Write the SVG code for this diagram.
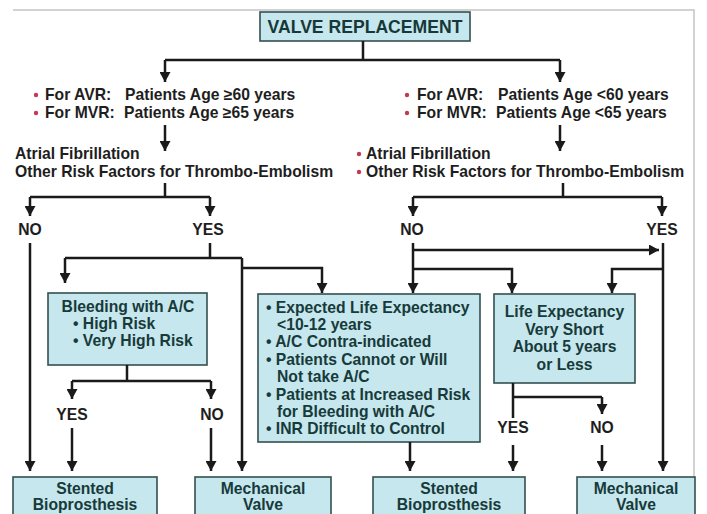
<svg xmlns="http://www.w3.org/2000/svg" width="707" height="514" viewBox="0 0 707 514">
<defs>
<marker id="ah" markerUnits="userSpaceOnUse" markerWidth="11" markerHeight="11" refX="10" refY="5.5" orient="auto">
<path d="M0,0 L10,5.5 L0,11 z" fill="#1a1a1a"/>
</marker>
<style>
text{font-family:"Liberation Sans",Arial,sans-serif;font-weight:bold;font-size:15.7px;fill:#1e1e1e}
.t{font-size:17.6px;fill:#173838}
.b text,.bt{fill:#173a3a}
.m{text-anchor:middle}
.box{fill:#c6e7ed;stroke:#335050;stroke-width:1.6}
.c path{fill:none;stroke:#1a1a1a;stroke-width:2.5}
.c .a{marker-end:url(#ah)}
.dot{fill:#c23a52}
.frame{stroke:#c4c4c4;stroke-width:1.5;fill:none}
</style>
</defs>
<rect width="707" height="514" fill="#ffffff"/>
<path class="frame" d="M13,10 H694 V514"/>

<g id="title">
<rect class="box" x="260" y="12" width="210" height="29"/>
<text class="t m" x="365" y="33">VALVE REPLACEMENT</text>
</g>

<g id="left-age">
<circle class="dot" cx="36" cy="95" r="2.2"/>
<circle class="dot" cx="36" cy="113" r="2.2"/>
<text x="45" y="100">For AVR:</text>
<text x="125" y="100">Patients Age ≥60 years</text>
<text x="45" y="118">For MVR:</text>
<text x="124" y="118">Patients Age ≥65 years</text>
</g>

<g id="right-age">
<circle class="dot" cx="407" cy="95" r="2.2"/>
<circle class="dot" cx="407" cy="113" r="2.2"/>
<text x="417" y="100">For AVR:</text>
<text x="498" y="100">Patients Age &lt;60 years</text>
<text x="417" y="118">For MVR:</text>
<text x="496" y="118">Patients Age &lt;65 years</text>
</g>

<g id="left-risk">
<text x="15" y="159">Atrial Fibrillation</text>
<text x="15" y="177">Other Risk Factors for Thrombo-Embolism</text>
</g>

<g id="right-risk">
<circle class="dot" cx="359" cy="154" r="2.2"/>
<circle class="dot" cx="359" cy="172" r="2.2"/>
<text x="366" y="159">Atrial Fibrillation</text>
<text x="366" y="177">Other Risk Factors for Thrombo-Embolism</text>
</g>

<g id="labels">
<text class="m" x="30" y="235">NO</text>
<text class="m" x="208" y="235">YES</text>
<text class="m" x="412" y="235">NO</text>
<text class="m" x="662" y="235">YES</text>
<text class="m" x="72" y="420">YES</text>
<text class="m" x="212" y="420">NO</text>
<text class="m" x="513" y="433">YES</text>
<text class="m" x="602" y="433">NO</text>
</g>

<g id="bleeding" class="b">
<rect class="box" x="48" y="293" width="159" height="72"/>
<text class="m" x="128" y="312">Bleeding with A/C</text>
<text x="73" y="329">• High Risk</text>
<text x="73" y="346">• Very High Risk</text>
</g>

<g id="criteria" class="b">
<rect class="box" x="258" y="294" width="222" height="148"/>
<text x="266" y="313">• Expected Life Expectancy</text>
<text x="277" y="330">&lt;10-12 years</text>
<text x="266" y="347">• A/C Contra-indicated</text>
<text x="266" y="365">• Patients Cannot or Will</text>
<text x="277" y="382">Not take A/C</text>
<text x="266" y="400">• Patients at Increased Risk</text>
<text x="277" y="417">for Bleeding with A/C</text>
<text x="266" y="434">• INR Difficult to Control</text>
</g>

<g id="life" class="b">
<rect class="box" x="494" y="294" width="141" height="89"/>
<text class="m" x="564.5" y="317">Life Expectancy</text>
<text class="m" x="564.5" y="335">Very Short</text>
<text class="m" x="564.5" y="352">About 5 years</text>
<text class="m" x="564.5" y="370">or Less</text>
</g>

<g id="bio1" class="b">
<rect class="box" x="13" y="477" width="144" height="45"/>
<text class="m" x="85" y="494">Stented</text>
<text class="m" x="85" y="510">Bioprosthesis</text>
</g>
<g id="mech1" class="b">
<rect class="box" x="195" y="477" width="136" height="45"/>
<text class="m" x="263" y="494">Mechanical</text>
<text class="m" x="263" y="510">Valve</text>
</g>
<g id="bio2" class="b">
<rect class="box" x="373" y="477" width="152" height="45"/>
<text class="m" x="449" y="494">Stented</text>
<text class="m" x="449" y="510">Bioprosthesis</text>
</g>
<g id="mech2" class="b">
<rect class="box" x="577" y="477" width="118" height="45"/>
<text class="m" x="636" y="494">Mechanical</text>
<text class="m" x="636" y="510">Valve</text>
</g>

<g id="connectors" class="c">
<path d="M363,41 V60 M165,60 H560"/>
<path class="a" d="M165,60 V82"/>
<path class="a" d="M560,60 V82"/>
<path class="a" d="M165,125 V151"/>
<path class="a" d="M560,125 V151"/>
<path d="M165,183 V197 M30,197 H210"/>
<path class="a" d="M30,197 V216"/>
<path class="a" d="M210,197 V216"/>
<path d="M563,183 V197 M413,197 H662"/>
<path class="a" d="M413,197 V216"/>
<path class="a" d="M662,197 V216"/>
<path class="a" d="M30,243 V471"/>
<path d="M210,243 V258 M65,258 H242"/>
<path class="a" d="M65,258 V283"/>
<path class="a" d="M242,258 V471"/>
<path class="a" d="M242,268 H322 V293"/>
<path d="M127,365 V381 M72,381 H211"/>
<path class="a" d="M72,381 V399"/>
<path class="a" d="M211,381 V399"/>
<path class="a" d="M72,428 V471"/>
<path class="a" d="M211,428 V471"/>
<path class="a" d="M410,442 V471"/>
<path class="a" d="M413,243 V293"/>
<path class="a" d="M413,250 H659"/>
<path class="a" d="M413,269 H512 V293"/>
<path class="a" d="M663,243 V471"/>
<path class="a" d="M663,269 H612 V293"/>
<path d="M513,383 V418 M513,397 H602"/>
<path class="a" d="M602,397 V414"/>
<path class="a" d="M513,445 V471"/>
<path class="a" d="M602,445 V471"/>
</g>
</svg>
